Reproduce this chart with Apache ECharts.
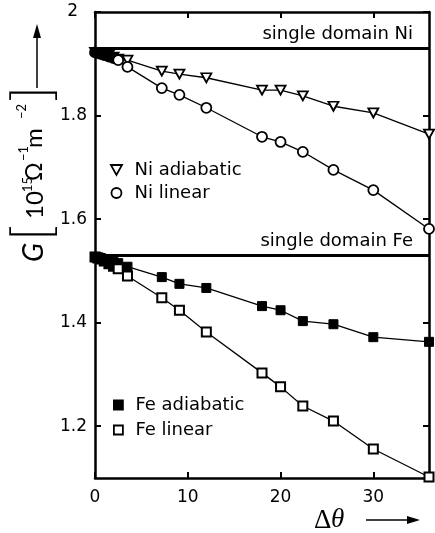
<!DOCTYPE html>
<html>
<head>
<meta charset="utf-8">
<script src="https://cdn.jsdelivr.net/npm/echarts@6/dist/echarts.min.js"></script>
<style>
html,body{margin:0;padding:0;background:#fff;}
#c{width:435px;height:533px;}
</style>
</head>
<body>
<div id="c"></div>
<script>
// ---- data ----
const xs = [0, 0.3, 0.6, 1, 1.5, 2, 2.5, 3.5, 7.2, 9.1, 12, 18, 20, 22.4, 25.7, 30, 36];
const niAdiabatic = [1.922, 1.921, 1.920, 1.919, 1.917, 1.913, 1.909, 1.907, 1.886, 1.880, 1.873, 1.849, 1.849, 1.838, 1.818, 1.805, 1.764];
const niLinear    = [1.922, 1.921, 1.919, 1.917, 1.914, 1.911, 1.907, 1.894, 1.853, 1.840, 1.815, 1.759, 1.749, 1.730, 1.695, 1.656, 1.581];
const feAdiabatic = [1.527, 1.526, 1.525, 1.523, 1.520, 1.517, 1.515, 1.508, 1.488, 1.475, 1.467, 1.432, 1.424, 1.403, 1.397, 1.372, 1.363];
const feLinear    = [1.527, 1.525, 1.523, 1.519, 1.514, 1.509, 1.504, 1.490, 1.448, 1.424, 1.382, 1.303, 1.276, 1.239, 1.210, 1.156, 1.102];
const singleDomainNi = 1.927;
const singleDomainFe = 1.531;
const xTicks = [0, 10, 20, 30];
const yTicks = [1.2, 1.4, 1.6, 1.8, 2.0];
const seriesNames = ['Ni adiabatic', 'Ni linear', 'Fe adiabatic', 'Fe linear'];

const FONT = '"DejaVu Sans", sans-serif';
const LFONT = 'Lato, "DejaVu Sans", sans-serif';
const triDown = 'path://M0,0 L10,0 L5,9 Z';
const square = 'path://M0,0 L10,0 L10,10 L0,10 Z';

// densely overlapping small-angle points print as a solid black cluster
const pairs = ys => xs.map((x, i) => x < 2.5
  ? {value: [x, ys[i]], itemStyle: {color: '#000'}}
  : [x, ys[i]]);

const chart = echarts.init(document.getElementById('c'), null, {renderer: 'canvas'});

const axisCommon = {
  type: 'value',
  axisLine: {show: true, onZero: false, lineStyle: {color: '#000', width: 2.5}},
  splitLine: {show: false}
};
const tickStyle = (vals) => ({show: true, inside: true, length: 6, customValues: vals, lineStyle: {color: '#000', width: 2}});
const lineStyle = {color: '#000', width: 1.3};
const txt = (text, x, y, font) => ({type: 'text', x: x, y: y, style: {text: text, font: font, fill: '#000', textAlign: 'left', textVerticalAlign: 'middle', align: 'left', verticalAlign: 'middle'}});

const option = {
  animation: false,
  backgroundColor: '#fff',
  grid: {left: 95, right: 6, top: 12, bottom: 55, containLabel: false},
  xAxis: [
    Object.assign({}, axisCommon, {
      min: 0, max: 36, position: 'bottom',
      axisTick: tickStyle(xTicks),
      axisLabel: {show: true, customValues: xTicks, color: '#000', fontSize: 17, fontFamily: FONT, margin: 11}
    }),
    Object.assign({}, axisCommon, {
      min: 0, max: 36, position: 'top',
      axisTick: tickStyle(xTicks),
      axisLabel: {show: false}
    })
  ],
  yAxis: [
    Object.assign({}, axisCommon, {
      min: 1.1, max: 2.0, position: 'left',
      axisTick: tickStyle(yTicks),
      axisLabel: {
        show: true, customValues: yTicks, color: '#000', fontSize: 17, fontFamily: FONT, margin: 8,
        formatter: v => {
          const s = String(+(+v).toFixed(1));
          return s.indexOf('.') < 0 ? '{p|' + s + '}' : s;
        },
        rich: {p: {fontSize: 17, fontFamily: FONT, color: '#000', padding: [0, 9, 0, 0]}}
      }
    }),
    Object.assign({}, axisCommon, {
      min: 1.1, max: 2.0, position: 'right',
      axisTick: tickStyle(yTicks),
      axisLabel: {show: false}
    })
  ],
  legend: [
    {
      data: [{name: seriesNames[0], icon: triDown}, {name: seriesNames[1], icon: 'circle'}],
      orient: 'vertical', left: 110, top: 161, padding: 0, itemGap: 5,
      itemWidth: 26, itemHeight: 10, symbolKeepAspect: true, selectedMode: false,
      itemStyle: {borderWidth: 1.8},
      textStyle: {color: '#000', fontSize: 18, fontFamily: FONT, lineHeight: 18}
    },
    {
      data: [{name: seriesNames[2], icon: square}, {name: seriesNames[3], icon: square}],
      orient: 'vertical', left: 113, top: 396, padding: 0, itemGap: 7,
      itemWidth: 24, itemHeight: 9, symbolKeepAspect: true, selectedMode: false,
      itemStyle: {borderWidth: 1.8},
      textStyle: {color: '#000', fontSize: 18, fontFamily: FONT, lineHeight: 18}
    }
  ],
  series: [
    {
      name: seriesNames[0], type: 'line', data: pairs(niAdiabatic), clip: false,
      symbol: triDown, symbolSize: [10, 9], showAllSymbol: true,
      itemStyle: {color: '#fff', borderColor: '#000', borderWidth: 1.8},
      lineStyle: lineStyle, z: 3,
      markLine: {
        silent: true, symbol: 'none', animation: false,
        lineStyle: {color: '#000', width: 3, type: 'solid'},
        label: {show: true, position: 'insideEndTop', formatter: '{b}', color: '#000', fontSize: 18, fontFamily: FONT, distance: [16, 5]},
        emphasis: {disabled: true},
        data: [
          {name: 'single domain Ni', yAxis: singleDomainNi},
          {name: 'single domain Fe', yAxis: singleDomainFe}
        ]
      }
    },
    {
      name: seriesNames[1], type: 'line', data: pairs(niLinear), clip: false,
      symbol: 'circle', symbolSize: 10, showAllSymbol: true,
      itemStyle: {color: '#fff', borderColor: '#000', borderWidth: 1.8},
      lineStyle: lineStyle, z: 3
    },
    {
      name: seriesNames[2], type: 'line', data: pairs(feAdiabatic), clip: false,
      symbol: square, symbolSize: 9, showAllSymbol: true,
      itemStyle: {color: '#000', borderColor: '#000', borderWidth: 1},
      lineStyle: lineStyle, z: 3
    },
    {
      name: seriesNames[3], type: 'line', data: pairs(feLinear), clip: false,
      symbol: square, symbolSize: 9, showAllSymbol: true,
      itemStyle: {color: '#fff', borderColor: '#000', borderWidth: 2},
      lineStyle: lineStyle, z: 3
    }
  ],
  graphic: [
    {
      type: 'group', x: 34, y: 262, rotation: Math.PI / 2, silent: true,
      children: [
        txt('G', 0, 0, 'italic 28px ' + LFONT),
        txt('[', 21, -1, '300 54px ' + LFONT),
        txt('10', 43, 1, '24px ' + LFONT),
        txt('15', 70, -6, '13px ' + LFONT),
        txt('Ω', 81, 1, '23px ' + LFONT),
        txt('−1', 101, -10, '13px ' + LFONT),
        txt('m', 114, 0, '24px ' + LFONT),
        txt('−2', 143, -12, '13px ' + LFONT),
        txt(']', 160, -1, '300 54px ' + LFONT)
      ]
    },
    {type: 'line', silent: true, shape: {x1: 37, y1: 88, x2: 37, y2: 35}, style: {stroke: '#000', lineWidth: 1.5}},
    {type: 'polygon', silent: true, shape: {points: [[37, 24], [33, 38], [41, 38]]}, style: {fill: '#000'}},
    {type: 'text', x: 314, y: 521, silent: true, style: {text: 'Δ', font: '27px "Liberation Serif", serif', fill: '#000', textAlign: 'left', textVerticalAlign: 'middle', align: 'left', verticalAlign: 'middle'}},
    {type: 'text', x: 331, y: 520, silent: true, style: {text: 'θ', font: 'italic 27px "Liberation Serif", serif', fill: '#000', textAlign: 'left', textVerticalAlign: 'middle', align: 'left', verticalAlign: 'middle'}},
    {type: 'line', silent: true, shape: {x1: 366, y1: 520, x2: 412, y2: 520}, style: {stroke: '#000', lineWidth: 1.5}},
    {type: 'polygon', silent: true, shape: {points: [[420, 520], [407, 516], [407, 524]]}, style: {fill: '#000'}}
  ]
};

chart.setOption(option);
</script>
</body>
</html>
